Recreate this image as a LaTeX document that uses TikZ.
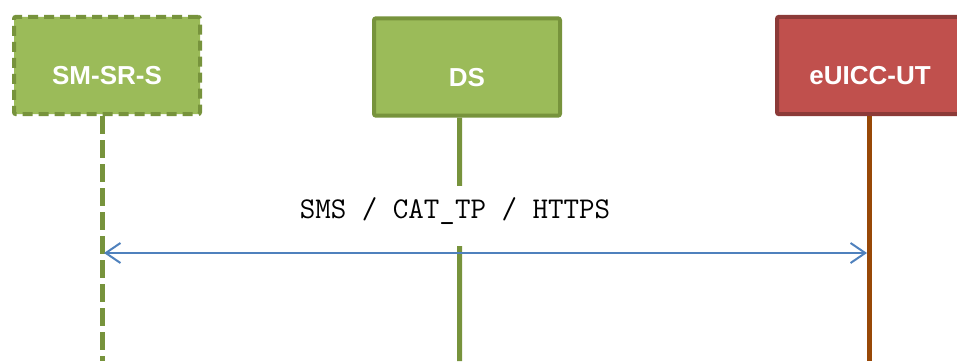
\documentclass[tikz,border=0pt]{standalone}
\usepackage{fontspec}
\setmainfont{Liberation Sans}
\usetikzlibrary{arrows.meta}
\tikzset{
  actor/.style = {draw, line width = 3pt, rounded corners = 1.5pt, minimum width = 139.5pt, minimum height = 73pt, text height = 29pt, text depth = 0pt, text = white, font = \fontsize{19.5}{23}\selectfont\bfseries},
  lifeline/.style = {line width = 3.75pt},
  msg/.style = {draw = msgblue, line width = 1.5pt, {Straight Barb[length = 11pt, width = 15pt]}-{Straight Barb[length = 11pt, width = 15pt]}}
}
\begin{document}
\begin{tikzpicture}[x = 0.75pt, y = -0.75pt]
\definecolor{greenfill}{HTML}{9BBB59}
\definecolor{greenline}{HTML}{77933C}
\definecolor{redfill}{HTML}{C0504D}
\definecolor{redline}{HTML}{8C3A38}
\definecolor{lifebrown}{HTML}{984807}
\definecolor{msgblue}{HTML}{4F81BD}
\useasboundingbox (0,0) rectangle (957,361);
% actors
\node[actor, fill = greenfill, draw = greenline, dash pattern = on 7.5pt off 4.5pt] (smsr) at (107,65.5) {SM-SR-S};
\node[actor, fill = greenfill, draw = greenline] (ds) at (467,67) {DS};
\node[actor, fill = redfill, draw = redline] (euicc) at (870,65.5) {eUICC-UT};
% lifelines
\coordinate (smsr end) at (102,361);
\coordinate (ds end) at (459.5,361);
\coordinate (euicc end) at (869,361);
\draw[lifeline, draw = greenline, dash pattern = on 13.5pt off 4.5pt] ([xshift = -3.75pt]smsr.south) -- (smsr end);
\draw[lifeline, draw = greenline] ([xshift = -5.6pt]ds.south) -- (ds end);
\draw[lifeline, draw = lifebrown] ([xshift = -0.75pt]euicc.south) -- (euicc end);
% message
\node[fill = white, minimum height = 45pt, inner xsep = 2pt, text height = 14pt, text depth = 11pt, font = \ttfamily\fontsize{22.6}{26}\selectfont] (proto) at (455,216) {SMS / CAT\_TP / HTTPS};
\coordinate (msg left) at (104,253);
\coordinate (msg right) at (867,253);
\draw[msg] (msg left) -- (msg right);
\end{tikzpicture}
\end{document}
